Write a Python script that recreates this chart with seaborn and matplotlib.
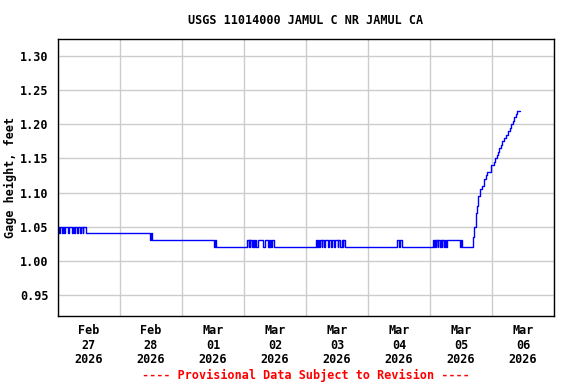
import pandas as pd
import matplotlib
matplotlib.use("Agg")
import matplotlib.pyplot as plt
import seaborn as sns

# Gage height change points (value holds until next time stamp)
times = [
    "2026-02-27 00:00", "2026-02-27 00:30", "2026-02-27 00:45", "2026-02-27 01:30",
    "2026-02-27 01:45", "2026-02-27 02:30", "2026-02-27 02:45", "2026-02-27 04:00",
    "2026-02-27 04:15", "2026-02-27 05:30", "2026-02-27 05:45", "2026-02-27 06:15",
    "2026-02-27 06:30", "2026-02-27 07:30", "2026-02-27 07:45", "2026-02-27 08:30",
    "2026-02-27 08:45", "2026-02-27 09:30", "2026-02-27 09:45", "2026-02-27 10:45",
    "2026-02-28 11:45", "2026-02-28 12:00", "2026-02-28 12:15",
    "2026-03-01 12:30", "2026-03-01 12:45", "2026-03-01 13:00",
    "2026-03-02 01:15", "2026-03-02 01:45", "2026-03-02 02:00", "2026-03-02 02:15",
    "2026-03-02 02:30", "2026-03-02 03:15", "2026-03-02 03:30", "2026-03-02 03:45",
    "2026-03-02 04:15", "2026-03-02 04:45", "2026-03-02 05:30", "2026-03-02 07:30",
    "2026-03-02 08:00", "2026-03-02 09:15", "2026-03-02 09:30", "2026-03-02 09:45",
    "2026-03-02 10:15", "2026-03-02 10:30", "2026-03-02 11:00", "2026-03-02 11:30",
    "2026-03-03 04:00", "2026-03-03 04:15", "2026-03-03 04:30", "2026-03-03 05:00",
    "2026-03-03 05:15", "2026-03-03 06:00", "2026-03-03 06:15", "2026-03-03 07:00",
    "2026-03-03 07:15", "2026-03-03 08:30", "2026-03-03 09:00", "2026-03-03 09:45",
    "2026-03-03 10:00", "2026-03-03 11:00", "2026-03-03 11:15", "2026-03-03 12:15",
    "2026-03-03 12:30", "2026-03-03 13:15", "2026-03-03 13:45", "2026-03-03 14:15",
    "2026-03-03 14:30", "2026-03-03 15:00",
    "2026-03-04 11:15", "2026-03-04 12:00", "2026-03-04 12:15", "2026-03-04 13:15",
    "2026-03-05 01:15", "2026-03-05 01:30", "2026-03-05 01:45", "2026-03-05 02:15",
    "2026-03-05 02:30", "2026-03-05 03:00", "2026-03-05 03:15", "2026-03-05 03:45",
    "2026-03-05 04:15", "2026-03-05 04:30", "2026-03-05 04:45", "2026-03-05 05:15",
    "2026-03-05 05:45", "2026-03-05 06:00", "2026-03-05 06:30", "2026-03-05 11:30",
    "2026-03-05 12:00", "2026-03-05 12:30",
    "2026-03-05 16:45", "2026-03-05 17:00", "2026-03-05 17:45", "2026-03-05 18:00",
    "2026-03-05 18:30", "2026-03-05 18:45", "2026-03-05 19:15", "2026-03-05 19:30",
    "2026-03-05 20:00", "2026-03-05 20:45", "2026-03-05 21:00", "2026-03-05 21:30",
    "2026-03-05 22:15", "2026-03-05 23:30",
    "2026-03-06 00:45", "2026-03-06 01:15", "2026-03-06 01:45", "2026-03-06 02:15",
    "2026-03-06 02:45", "2026-03-06 03:30", "2026-03-06 04:00", "2026-03-06 04:45",
    "2026-03-06 05:30", "2026-03-06 06:00", "2026-03-06 07:00", "2026-03-06 07:15",
    "2026-03-06 08:00", "2026-03-06 08:30", "2026-03-06 09:15", "2026-03-06 09:45",
    "2026-03-06 10:45",
]
heights = [
    1.05, 1.04, 1.05, 1.04, 1.05, 1.04, 1.05, 1.04, 1.05, 1.04, 1.05, 1.04,
    1.05, 1.04, 1.05, 1.04, 1.05, 1.04, 1.05, 1.04,
    1.03, 1.04, 1.03,
    1.02, 1.03, 1.02,
    1.03, 1.02, 1.03, 1.02, 1.03, 1.02, 1.03, 1.02, 1.03, 1.02, 1.03, 1.02,
    1.03, 1.02, 1.03, 1.02, 1.03, 1.02, 1.03, 1.02,
    1.03, 1.02, 1.03, 1.02, 1.03, 1.02, 1.03, 1.02, 1.03, 1.02, 1.03, 1.02,
    1.03, 1.02, 1.03, 1.02, 1.03, 1.02, 1.03, 1.02, 1.03, 1.02,
    1.03, 1.02, 1.03, 1.02,
    1.03, 1.02, 1.03, 1.02, 1.03, 1.02, 1.03, 1.02, 1.03, 1.02, 1.03, 1.02,
    1.03, 1.02, 1.03, 1.02, 1.03, 1.02,
    1.035, 1.05, 1.07, 1.08, 1.09, 1.095, 1.10, 1.105, 1.11, 1.115, 1.12, 1.125,
    1.13, 1.14,
    1.145, 1.15, 1.155, 1.16, 1.165, 1.17, 1.175, 1.18, 1.185, 1.19, 1.195, 1.20,
    1.205, 1.21, 1.215, 1.22, 1.22,
]

title = "USGS 11014000 JAMUL C NR JAMUL CA"
y_label = "Gage height, feet"
footer = "---- Provisional Data Subject to Revision ----"
y_ticks = [0.95, 1.00, 1.05, 1.10, 1.15, 1.20, 1.25, 1.30]

df = pd.DataFrame({"time": pd.to_datetime(times), "height": heights})

sns.set_style("white")
plt.rcParams["font.family"] = ["DejaVu Sans Mono"]
plt.rcParams["font.weight"] = "bold"
plt.rcParams["text.color"] = "black"
plt.rcParams["axes.labelcolor"] = "black"
plt.rcParams["xtick.color"] = "black"
plt.rcParams["ytick.color"] = "black"

fig = plt.figure(figsize=(5.76, 3.84), dpi=100)
ax = fig.add_axes([58 / 576, 1 - 316 / 384, 496 / 576, 277 / 384])

sns.lineplot(data=df, x="time", y="height", ax=ax, color="#0000ff",
             linewidth=1.0, drawstyle="steps-post", estimator=None)

start = pd.Timestamp("2026-02-27")
end = pd.Timestamp("2026-03-07")
ax.set_xlim(start, end)
ax.set_ylim(0.919, 1.325)

# grid at midnight, labels at noon
midnights = pd.date_range(start, end, freq="D")
noons = pd.date_range("2026-02-27 12:00", "2026-03-06 12:00", freq="D")
ax.set_xticks(midnights, minor=True)
ax.set_xticks(noons)
ax.set_xticklabels([d.strftime("%b\n%d\n%Y") for d in noons],
                   fontsize=8.5, fontweight="bold", linespacing=1.15)
ax.set_yticks(y_ticks)
ax.set_yticklabels([f"{v:.2f}" for v in y_ticks], fontsize=8.5, fontweight="bold")
ax.tick_params(axis="both", which="both", length=0)
ax.tick_params(axis="x", pad=6)
ax.tick_params(axis="y", pad=7)

ax.grid(False)
ax.xaxis.grid(True, which="minor", color="#cccccc", linewidth=1)
ax.yaxis.grid(True, which="major", color="#cccccc", linewidth=1)
ax.set_axisbelow(True)
for s in ax.spines.values():
    s.set_color("black")
    s.set_linewidth(1)

ax.set_xlabel("")
ax.set_ylabel(y_label, fontsize=8.5, fontweight="bold")
ax.yaxis.set_label_coords(-41 / 496, 0.5)

fig.text(306 / 576, 1 - 20 / 384, title, ha="center", va="center",
         fontsize=8.5, fontweight="bold")
fig.text(306 / 576, 1 - 375 / 384, footer, ha="center", va="center",
         fontsize=8.5, fontweight="bold", color="red")

fig.savefig("out.png", dpi=100)
